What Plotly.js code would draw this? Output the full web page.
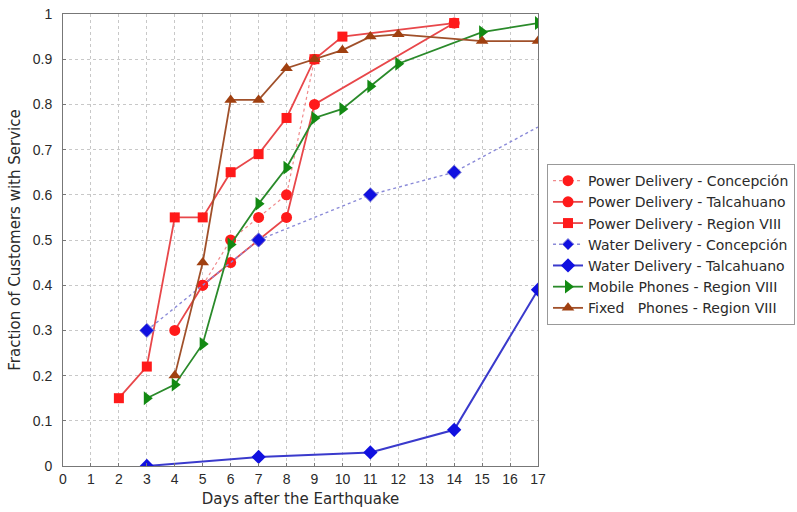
<!DOCTYPE html>
<html><head><meta charset="utf-8">
<script src="https://cdn.plot.ly/plotly-3.0.1.min.js"></script>
<style>html,body{margin:0;padding:0;background:#fff}#chart{width:797px;height:512px}</style>
</head><body><div id="chart"></div>
<script>
const powerConcX = [5, 6, 7, 8, 9];
const powerConcY = [0.40, 0.50, 0.55, 0.60, 0.90];
const powerTalcX = [4, 5, 6, 7, 8, 9, 14];
const powerTalcY = [0.30, 0.40, 0.45, 0.50, 0.55, 0.80, 0.98];
const powerR8X = [2, 3, 4, 5, 6, 7, 8, 9, 10, 14];
const powerR8Y = [0.15, 0.22, 0.55, 0.55, 0.65, 0.69, 0.77, 0.90, 0.95, 0.98];
const waterConcX = [3, 7, 11, 14, 17];
const waterConcY = [0.30, 0.50, 0.60, 0.65, 0.75];
const waterTalcX = [3, 7, 11, 14, 17];
const waterTalcY = [0.00, 0.02, 0.03, 0.08, 0.39];
const mobileX = [3, 4, 5, 6, 7, 8, 9, 10, 11, 12, 15, 17];
const mobileY = [0.15, 0.18, 0.27, 0.49, 0.58, 0.66, 0.77, 0.79, 0.84, 0.89, 0.96, 0.98];
const fixedX = [4, 5, 6, 7, 8, 9, 10, 11, 12, 15, 17];
const fixedY = [0.20, 0.45, 0.81, 0.81, 0.88, 0.90, 0.92, 0.95, 0.955, 0.94, 0.94];
const names = ['Power Delivery - Concepción','Power Delivery - Talcahuano','Power Delivery - Region VIII',
  'Water Delivery - Concepción','Water Delivery - Talcahuano','Mobile Phones - Region VIII',
  'Fixed\u00a0\u00a0\u00a0Phones - Region VIII'];
const xTicks = [0,1,2,3,4,5,6,7,8,9,10,11,12,13,14,15,16,17];
const yTicks = [0,0.1,0.2,0.3,0.4,0.5,0.6,0.7,0.8,0.9,1];
const yTickText = ['0','0.1','0.2','0.3','0.4','0.5','0.6','0.7','0.8','0.9','1'];

const red='#ff1a1a', redLine='#e8474a';
const traces = [
 {x:powerConcX,y:powerConcY,name:names[0],mode:'lines+markers',line:{color:'#f08a8c',width:1.2,dash:'dot'},marker:{symbol:'circle',size:11,color:red,opacity:1}},
 {x:powerTalcX,y:powerTalcY,name:names[1],mode:'lines+markers',line:{color:redLine,width:1.8},marker:{symbol:'circle',size:11,color:red,opacity:1}},
 {x:powerR8X,y:powerR8Y,name:names[2],mode:'lines+markers',line:{color:redLine,width:1.8},marker:{symbol:'square',size:10,color:red,opacity:1}},
 {x:waterConcX,y:waterConcY,name:names[3],mode:'lines+markers',line:{color:'#8a8ad8',width:1.4,dash:'dot'},marker:{symbol:'diamond',size:[11,11,11,11,0],color:'#1010e0',opacity:1}},
 {x:waterTalcX,y:waterTalcY,name:names[4],mode:'lines+markers',line:{color:'#3a3acc',width:2},marker:{symbol:'diamond',size:11,color:'#1010e0',opacity:1}},
 {x:mobileX,y:mobileY,name:names[5],mode:'lines+markers',line:{color:'#2a8a2a',width:1.8},marker:{symbol:'triangle-right',size:12,color:'#138a13',opacity:1}},
 {x:fixedX,y:fixedY,name:names[6],mode:'lines+markers',line:{color:'#a0502a',width:1.8},marker:{symbol:'triangle-up',size:11,color:'#a04010',opacity:1}}
];
const tickFont = {family:'Liberation Sans, Arial, sans-serif', size:14, color:'#2a2a2a'};
const titleFont = {family:'DejaVu Sans, sans-serif', size:15, color:'#2a2a2a'};
const layout = {
  width:797, height:512,
  margin:{l:63, r:259, t:14, b:46, autoexpand:false},
  paper_bgcolor:'#fff', plot_bgcolor:'#fff',
  showlegend:true,
  legend:{x:1.019, y:0.668, xanchor:'left', yanchor:'top', bgcolor:'#fff', bordercolor:'#999', borderwidth:1,
          font:{family:'DejaVu Sans, sans-serif', size:14, color:'#2a2a2a'}, tracegroupgap:0, itemwidth:30},
  xaxis:{range:[0,17], tickvals:xTicks, ticktext:xTicks.map(String), showgrid:true, gridcolor:'#c8c8c8', griddash:'dot', gridwidth:1,
         zeroline:false, showline:true, linecolor:'#777', linewidth:1, mirror:true, ticks:'inside', ticklen:3, tickcolor:'#777',
         automargin:false,
         tickfont:tickFont, title:{text:'Days after the Earthquake', font:titleFont, standoff:7}},
  yaxis:{range:[0,1], tickvals:yTicks, ticktext:yTickText, showgrid:true, gridcolor:'#c8c8c8', griddash:'dot', gridwidth:1,
         zeroline:false, showline:true, linecolor:'#777', linewidth:1, mirror:true, ticks:'inside', ticklen:3, tickcolor:'#777',
         ticklabelstandoff:7, automargin:false,
         tickfont:tickFont, title:{text:'Fraction of Customers with Service', font:titleFont, standoff:8}}
};
Plotly.newPlot('chart', traces, layout, {displayModeBar:false, staticPlot:true});
</script></body></html>
